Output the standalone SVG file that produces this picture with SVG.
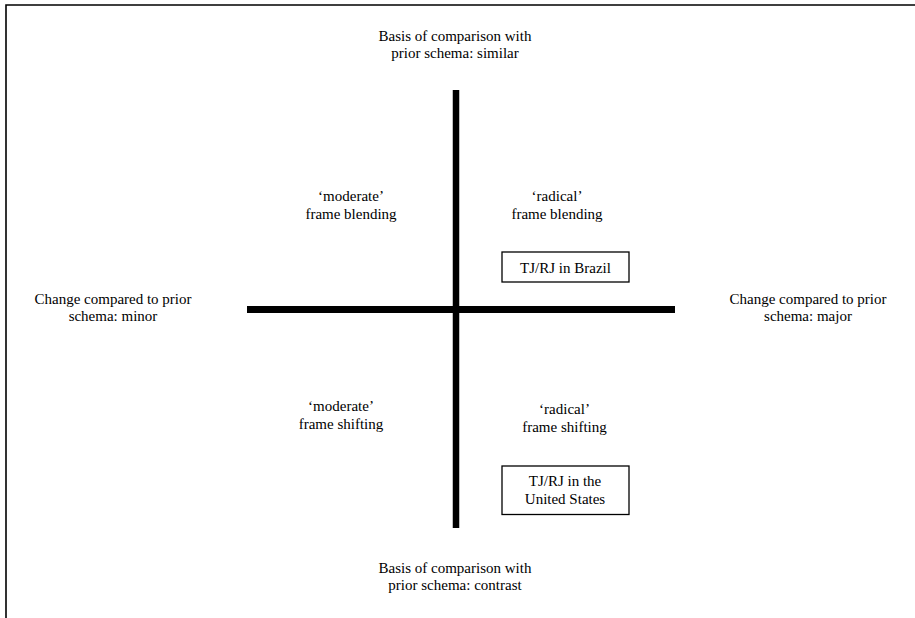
<svg xmlns="http://www.w3.org/2000/svg" width="915" height="618" viewBox="0 0 915 618">
<style>
text{font-family:'Liberation Serif','Times New Roman','DejaVu Serif',serif;font-size:15px;fill:#000;text-anchor:middle}
.axis{stroke:#000;stroke-width:7;fill:none}
.box{fill:#fff;stroke:#000;stroke-width:1.3}
.frame{fill:none;stroke:#000;stroke-width:1.6}
</style>
<rect width="915" height="618" fill="#fff"/>
<path class="frame" d="M6,618 V5 H915"/>
<g id="connectors">
<line class="axis" x1="456" y1="90" x2="456" y2="528" style="stroke-width:6.5"/>
<line class="axis" x1="247" y1="309.5" x2="675" y2="309.5"/>
</g>
<g font-family="Liberation Serif, serif">
<g id="top-label"><text x="455" y="41">Basis of comparison with</text><text x="455" y="58">prior schema: similar</text></g>
<g id="bottom-label"><text x="455" y="573">Basis of comparison with</text><text x="455" y="590">prior schema: contrast</text></g>
<g id="left-label"><text x="113" y="304">Change compared to prior</text><text x="113" y="321">schema: minor</text></g>
<g id="right-label"><text x="808" y="304">Change compared to prior</text><text x="808" y="321">schema: major</text></g>
<g id="moderate-blending"><text x="351" y="201">‘moderate’</text><text x="351" y="219">frame blending</text></g>
<g id="radical-blending"><text x="557" y="201">‘radical’</text><text x="557" y="219">frame blending</text></g>
<g id="moderate-shifting"><text x="341" y="411">‘moderate’</text><text x="341" y="429">frame shifting</text></g>
<g id="radical-shifting"><text x="564.5" y="414">‘radical’</text><text x="564.5" y="432">frame shifting</text></g>
<g id="brazil"><rect class="box" x="502" y="252" width="127" height="30"/><text x="565.5" y="273">TJ/RJ in Brazil</text></g>
<g id="us"><rect class="box" x="502" y="466" width="127" height="48.5"/><text x="565" y="486">TJ/RJ in the</text><text x="565" y="504">United States</text></g>
</g>
</svg>
